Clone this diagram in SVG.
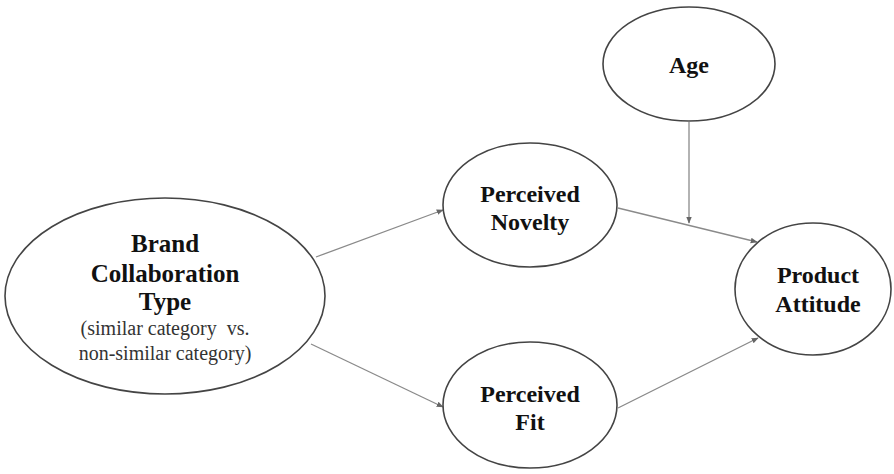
<svg xmlns="http://www.w3.org/2000/svg" width="894" height="474" viewBox="0 0 894 474">
<defs>
<style>
.node{fill:#fff;stroke:#444;stroke-width:1.6}
.b{font-family:"Liberation Serif","Times New Roman",serif;font-weight:bold;font-size:24px;fill:#111;text-anchor:middle}
.b25{font-size:25px}
.r{font-family:"Liberation Serif","Times New Roman",serif;font-size:20px;fill:#333;text-anchor:middle}
.edge{stroke:#8a8a8a;stroke-width:1.3;fill:none;marker-end:url(#arr)}
</style>
<marker id="arr" viewBox="0 0 10 10" refX="9" refY="5" markerWidth="7" markerHeight="7" markerUnits="userSpaceOnUse" orient="auto">
<path d="M0,1 L10,5 L0,9 z" fill="#666"/>
</marker>
</defs>
<rect width="894" height="474" fill="#fff"/>
<g id="connectors">
<line class="edge" x1="316" y1="257" x2="443" y2="210"/>
<line class="edge" x1="311" y1="344" x2="443" y2="407"/>
<line class="edge" x1="618" y1="208" x2="757" y2="242"/>
<line class="edge" x1="618" y1="408" x2="758" y2="338"/>
<line class="edge" x1="689" y1="122" x2="689" y2="223"/>
</g>
<g id="brand">
<ellipse class="node" cx="165" cy="296" rx="160" ry="98"/>
<text class="b b25" x="165" y="252">Brand</text>
<text class="b b25" x="165" y="282">Collaboration</text>
<text class="b b25" x="165" y="310">Type</text>
<text class="r" x="165" y="335" xml:space="preserve">(similar category  vs.</text>
<text class="r" x="165" y="360">non-similar category)</text>
</g>
<g id="novelty">
<ellipse class="node" cx="530" cy="205" rx="87" ry="62"/>
<text class="b" x="530" y="202">Perceived</text>
<text class="b" x="530" y="230">Novelty</text>
</g>
<g id="fit">
<ellipse class="node" cx="530" cy="405" rx="87" ry="63"/>
<text class="b" x="530" y="402">Perceived</text>
<text class="b" x="530" y="430">Fit</text>
</g>
<g id="age">
<ellipse class="node" cx="689" cy="64" rx="86" ry="57"/>
<text class="b" x="689" y="73">Age</text>
</g>
<g id="attitude">
<ellipse class="node" cx="813" cy="289" rx="78" ry="66"/>
<text class="b" x="818" y="283">Product</text>
<text class="b" x="818" y="312">Attitude</text>
</g>
</svg>
